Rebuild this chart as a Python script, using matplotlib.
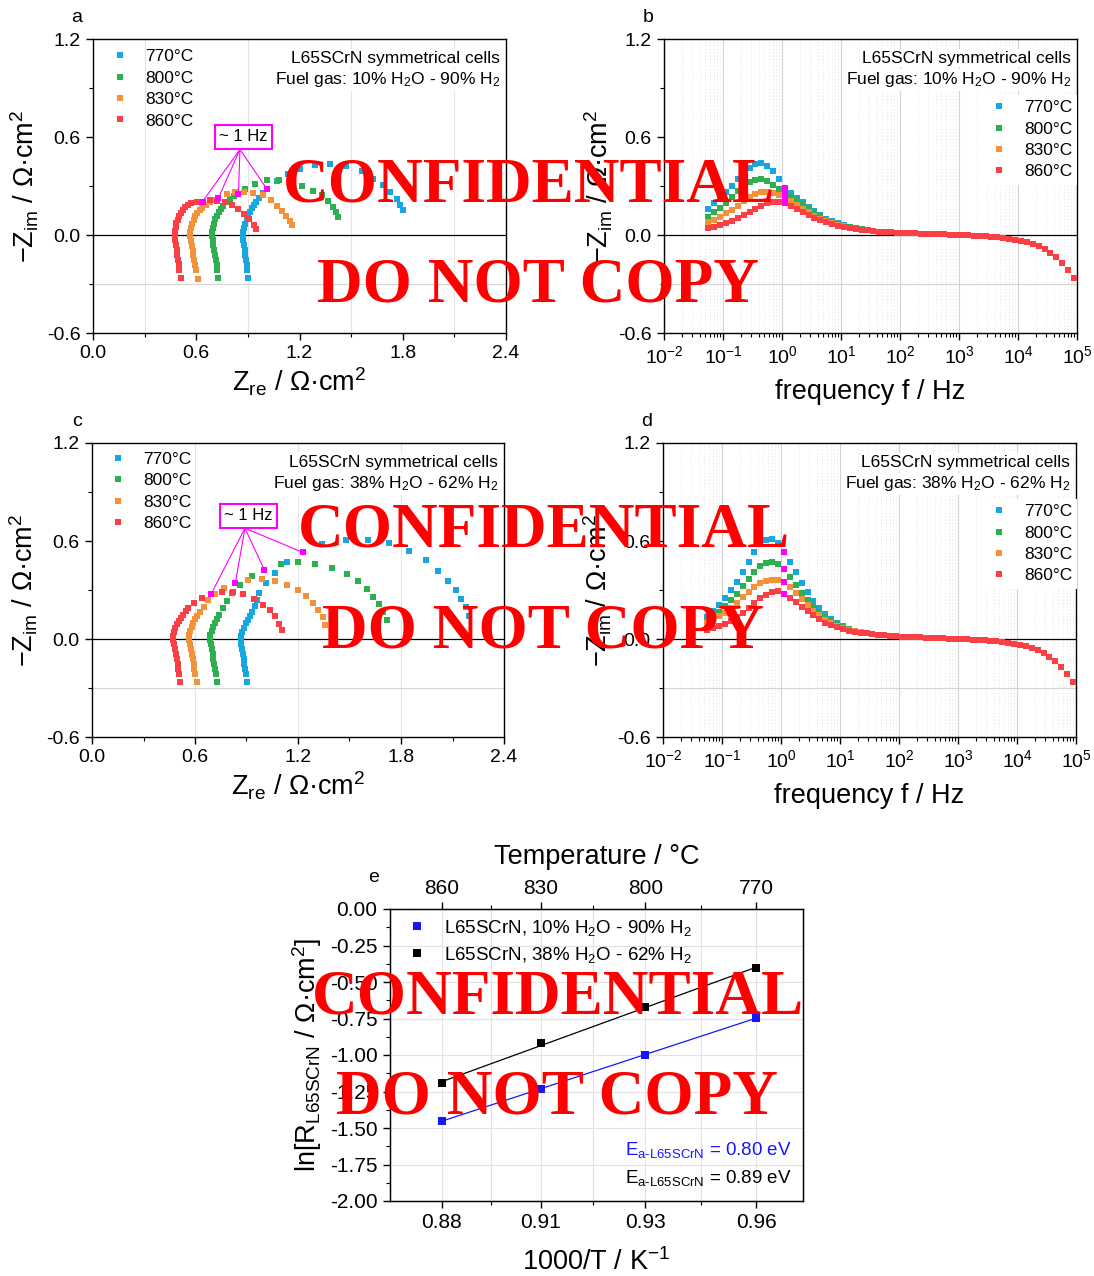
import numpy as np
import matplotlib
matplotlib.use("Agg")
import matplotlib.pyplot as plt
from matplotlib.lines import Line2D
from matplotlib.ticker import (MultipleLocator, FixedLocator, LogLocator,
                               NullFormatter, FormatStrFormatter,
                               LogFormatterSciNotation)

plt.rcParams['font.family'] = ['Liberation Sans', 'DejaVu Sans']
plt.rcParams['mathtext.fontset'] = 'custom'
plt.rcParams['mathtext.rm'] = 'Liberation Sans'
plt.rcParams['mathtext.it'] = 'Liberation Sans:italic'
plt.rcParams['mathtext.bf'] = 'Liberation Sans:bold'
plt.rcParams['mathtext.default'] = 'regular'
plt.rcParams['axes.unicode_minus'] = False

# ---------------------------------------------------------------- data
temps = ['770°C', '800°C', '830°C', '860°C']
colors = ['#17A6E0', '#2EAF50', '#F2923A', '#FA4045']
MAGENTA = '#FF00FF'

# Nyquist, 10% H2O - 90% H2 (Zre, -Zim in Ohm cm2)
a770_re = [0.903, 0.897, 0.893, 0.889, 0.885, 0.881, 0.877, 0.873, 0.870, 0.872, 0.877, 0.884, 0.893, 0.902,
           0.913, 0.925, 0.937, 0.950, 0.965, 0.985, 1.009, 1.067, 1.131, 1.205, 1.290, 1.380, 1.470, 1.561,
           1.629, 1.687, 1.726, 1.765, 1.784, 1.803]
a770_im = [-0.264, -0.213, -0.183, -0.153, -0.123, -0.093, -0.063, -0.033, -0.005, 0.020, 0.045, 0.070, 0.095,
           0.118, 0.140, 0.163, 0.185, 0.205, 0.228, 0.255, 0.284, 0.333, 0.375, 0.405, 0.430, 0.435, 0.420,
           0.389, 0.344, 0.307, 0.262, 0.221, 0.186, 0.154]
a800_re = [0.728, 0.722, 0.718, 0.714, 0.710, 0.705, 0.700, 0.695, 0.691, 0.693, 0.697, 0.703, 0.710, 0.719,
           0.730, 0.742, 0.757, 0.775, 0.796, 0.820, 0.845, 0.883, 0.941, 1.009, 1.081, 1.145, 1.212, 1.276,
           1.329, 1.368, 1.396, 1.412, 1.425]
a800_im = [-0.264, -0.213, -0.183, -0.153, -0.123, -0.093, -0.063, -0.033, -0.005, 0.020, 0.045, 0.070, 0.095,
           0.118, 0.140, 0.160, 0.180, 0.200, 0.221, 0.236, 0.248, 0.283, 0.313, 0.334, 0.334, 0.324, 0.303,
           0.272, 0.246, 0.211, 0.170, 0.140, 0.109]
a830_re = [0.608, 0.599, 0.594, 0.589, 0.584, 0.579, 0.574, 0.569, 0.565, 0.566, 0.570, 0.577, 0.585, 0.595,
           0.607, 0.620, 0.636, 0.655, 0.680, 0.700, 0.728, 0.777, 0.825, 0.879, 0.932, 0.990, 1.032, 1.067,
           1.096, 1.121, 1.145, 1.158]
a830_im = [-0.270, -0.215, -0.185, -0.155, -0.125, -0.095, -0.065, -0.035, -0.005, 0.020, 0.045, 0.070, 0.093,
           0.115, 0.135, 0.152, 0.168, 0.183, 0.200, 0.212, 0.225, 0.252, 0.262, 0.266, 0.256, 0.242, 0.215,
           0.180, 0.149, 0.119, 0.088, 0.063]
a860_re = [0.510, 0.502, 0.498, 0.494, 0.490, 0.486, 0.482, 0.478, 0.476, 0.477, 0.480, 0.485, 0.492, 0.500,
           0.510, 0.522, 0.536, 0.552, 0.572, 0.602, 0.637, 0.680, 0.722, 0.767, 0.806, 0.844, 0.879, 0.908,
           0.935, 0.947]
a860_im = [-0.266, -0.212, -0.180, -0.150, -0.120, -0.090, -0.060, -0.030, -0.003, 0.022, 0.047, 0.071, 0.094,
           0.116, 0.136, 0.154, 0.170, 0.183, 0.193, 0.200, 0.205, 0.213, 0.211, 0.201, 0.184, 0.159, 0.129,
           0.098, 0.063, 0.037]
a_hz1 = [20, 20, 20, 20]

# Nyquist, 38% H2O - 62% H2
c770_re = [0.901, 0.895, 0.891, 0.887, 0.883, 0.879, 0.875, 0.870, 0.866, 0.869, 0.876, 0.886, 0.897, 0.910,
           0.922, 0.933, 0.948, 0.960, 0.975, 1.012, 1.066, 1.138, 1.227, 1.341, 1.477, 1.606, 1.732, 1.848,
           1.943, 2.017, 2.075, 2.120, 2.149, 2.176, 2.198]
c770_im = [-0.263, -0.212, -0.182, -0.152, -0.122, -0.092, -0.062, -0.032, -0.005, 0.020, 0.045, 0.070, 0.095,
           0.118, 0.142, 0.165, 0.200, 0.240, 0.282, 0.343, 0.406, 0.469, 0.531, 0.584, 0.604, 0.608, 0.588,
           0.539, 0.482, 0.416, 0.355, 0.298, 0.247, 0.196, 0.141]
c800_re = [0.730, 0.722, 0.717, 0.712, 0.707, 0.702, 0.697, 0.692, 0.687, 0.690, 0.697, 0.706, 0.716, 0.727,
           0.740, 0.761, 0.788, 0.817, 0.862, 0.930, 1.004, 1.101, 1.198, 1.299, 1.400, 1.483, 1.547, 1.600,
           1.639, 1.672, 1.697, 1.716]
c800_im = [-0.263, -0.212, -0.182, -0.152, -0.122, -0.092, -0.062, -0.032, -0.005, 0.022, 0.048, 0.072, 0.097,
           0.120, 0.145, 0.192, 0.231, 0.282, 0.333, 0.386, 0.424, 0.457, 0.469, 0.461, 0.437, 0.400, 0.353,
           0.304, 0.257, 0.212, 0.165, 0.114]
c830_re = [0.610, 0.600, 0.596, 0.592, 0.587, 0.582, 0.576, 0.570, 0.564, 0.567, 0.572, 0.580, 0.590, 0.601,
           0.614, 0.629, 0.655, 0.678, 0.716, 0.769, 0.835, 0.910, 0.988, 1.068, 1.138, 1.202, 1.246, 1.285,
           1.318, 1.343, 1.357]
c830_im = [-0.263, -0.212, -0.182, -0.152, -0.122, -0.092, -0.062, -0.032, -0.005, 0.022, 0.047, 0.072, 0.097,
           0.120, 0.142, 0.165, 0.196, 0.237, 0.278, 0.314, 0.343, 0.363, 0.365, 0.355, 0.329, 0.298, 0.261,
           0.222, 0.180, 0.135, 0.084]
c860_re = [0.513, 0.507, 0.503, 0.499, 0.494, 0.489, 0.484, 0.478, 0.472, 0.474, 0.479, 0.486, 0.494, 0.504,
           0.516, 0.530, 0.545, 0.561, 0.596, 0.639, 0.693, 0.755, 0.819, 0.881, 0.944, 0.998, 1.037, 1.066,
           1.091, 1.109]
c860_im = [-0.263, -0.212, -0.182, -0.152, -0.122, -0.092, -0.062, -0.032, -0.005, 0.020, 0.045, 0.070, 0.092,
           0.112, 0.130, 0.150, 0.170, 0.192, 0.220, 0.251, 0.274, 0.288, 0.288, 0.273, 0.247, 0.210, 0.176,
           0.139, 0.094, 0.053]
c_hz1 = [22, 20, 20, 20]

# Bode: measurement frequencies (Hz), high to low
freq = [89125, 70795, 56234, 44668, 35481, 28184, 22387, 17783, 14125, 11220,
        8912.5, 7079.5, 5623.4, 4466.8, 3548.1, 2818.4, 2238.7, 1778.3, 1412.5, 1122.0,
        891.25, 707.95, 562.34, 446.68, 354.81, 281.84, 223.87, 177.83, 141.25, 112.20,
        89.125, 70.795, 56.234, 44.668, 35.481, 28.184, 22.387, 17.783, 14.125, 11.220,
        8.9125, 7.0795, 5.6234, 4.4668, 3.5481, 2.8184, 2.2387, 1.7783, 1.4125, 1.1220,
        0.89125, 0.70795, 0.56234, 0.44668, 0.35481, 0.28184, 0.22387, 0.17783, 0.14125, 0.11220,
        0.089125, 0.070795, 0.056234]
bode_hz1 = 49

# -Zim above ~28 Hz, common to all temperatures
b_hf = [-0.264, -0.214, -0.173, -0.137, -0.110, -0.086, -0.069, -0.053, -0.043, -0.035,
        -0.028, -0.023, -0.019, -0.015, -0.012, -0.009, -0.007, -0.005, -0.003, -0.001,
        0.001, 0.003, 0.005, 0.006, 0.007, 0.008, 0.009, 0.010, 0.011, 0.012,
        0.014, 0.016, 0.018, 0.021, 0.024, 0.028]
b770_lf = [0.036, 0.043, 0.051, 0.060, 0.071, 0.085, 0.101, 0.121, 0.145, 0.172, 0.200, 0.228, 0.255, 0.290,
           0.345, 0.392, 0.425, 0.438, 0.432, 0.412, 0.380, 0.340, 0.300, 0.262, 0.228, 0.195, 0.160]
b800_lf = [0.034, 0.040, 0.047, 0.055, 0.065, 0.077, 0.092, 0.110, 0.132, 0.157, 0.185, 0.212, 0.233, 0.250,
           0.280, 0.308, 0.328, 0.340, 0.338, 0.325, 0.300, 0.268, 0.232, 0.198, 0.166, 0.138, 0.113]
b830_lf = [0.033, 0.038, 0.045, 0.053, 0.062, 0.073, 0.086, 0.101, 0.119, 0.139, 0.162, 0.186, 0.208, 0.226,
           0.245, 0.258, 0.265, 0.263, 0.252, 0.233, 0.208, 0.180, 0.155, 0.132, 0.112, 0.094, 0.078]
b860_lf = [0.032, 0.037, 0.043, 0.050, 0.058, 0.068, 0.079, 0.092, 0.107, 0.123, 0.140, 0.158, 0.176, 0.196,
           0.205, 0.203, 0.193, 0.178, 0.160, 0.140, 0.120, 0.102, 0.086, 0.072, 0.060, 0.050, 0.041]

d_hf = [-0.264, -0.212, -0.170, -0.135, -0.108, -0.085, -0.068, -0.053, -0.043, -0.035,
        -0.028, -0.023, -0.019, -0.015, -0.012, -0.009, -0.007, -0.005, -0.003, -0.001,
        0.001, 0.003, 0.005, 0.006, 0.007, 0.008, 0.010, 0.011, 0.013, 0.015,
        0.017, 0.019, 0.022, 0.025, 0.029, 0.034]
d770_lf = [0.043, 0.052, 0.064, 0.080, 0.100, 0.124, 0.154, 0.190, 0.234, 0.285, 0.345, 0.410, 0.474, 0.535,
           0.590, 0.610, 0.606, 0.580, 0.535, 0.470, 0.410, 0.350, 0.298, 0.250, 0.207, 0.170, 0.135]
d800_lf = [0.041, 0.049, 0.059, 0.072, 0.089, 0.110, 0.135, 0.164, 0.198, 0.238, 0.282, 0.330, 0.380, 0.426,
           0.460, 0.472, 0.466, 0.445, 0.410, 0.368, 0.322, 0.278, 0.237, 0.200, 0.168, 0.140, 0.115]
d830_lf = [0.040, 0.046, 0.055, 0.066, 0.080, 0.097, 0.118, 0.144, 0.174, 0.208, 0.244, 0.282, 0.318, 0.348,
           0.362, 0.364, 0.358, 0.343, 0.320, 0.290, 0.256, 0.222, 0.190, 0.162, 0.138, 0.118, 0.100]
d860_lf = [0.038, 0.044, 0.051, 0.060, 0.071, 0.085, 0.101, 0.121, 0.144, 0.170, 0.198, 0.226, 0.254, 0.278,
           0.292, 0.288, 0.272, 0.248, 0.218, 0.187, 0.158, 0.132, 0.110, 0.092, 0.077, 0.065, 0.055]

# Arrhenius data
arr_temps_c = [860, 830, 800, 770]
ln_r_10 = [-1.451, -1.234, -0.999, -0.745]
ln_r_38 = [-1.195, -0.921, -0.670, -0.407]
K_B = 8.617e-5  # eV/K

# ---------------------------------------------------------------- figure
W, H = 1094, 1276
fig = plt.figure(figsize=(W / 100, H / 100), dpi=100)


def axes_px(left, top, right, bottom):
    return fig.add_axes([left / W, 1 - bottom / H, (right - left) / W, (bottom - top) / H])


def style_ticks(ax, size=14):
    ax.tick_params(which='major', direction='out', length=5, width=1, labelsize=size, pad=4,
                   top=False, right=False)
    ax.tick_params(which='minor', direction='out', length=3, width=0.8, top=False, right=False)
    for sp in ax.spines.values():
        sp.set_linewidth(1.0)


def legend_handles():
    return [Line2D([], [], marker='s', ls='none', color=c, markersize=5, mew=0, label=t)
            for t, c in zip(temps, colors)]


def info_text(ax, gas, y1, y2):
    box = dict(facecolor='white', edgecolor='none', pad=1.0)
    ax.text(0.985, y1, 'L65SCrN symmetrical cells', transform=ax.transAxes, ha='right',
            va='baseline', fontsize=12.5, bbox=box, zorder=6)
    ax.text(0.985, y2, 'Fuel gas: ' + gas, transform=ax.transAxes, ha='right',
            va='baseline', fontsize=12.5, bbox=box, zorder=6)


def nyquist(ax, series, hz1, box_xy, hub_xy, gas, grid_x, leg_anchor):
    ax.set_xlim(0, 2.4)
    ax.set_ylim(-0.6, 1.2)
    for gx in grid_x:
        ax.axvline(gx, color='#e4e4e4', lw=0.8, zorder=0)
    ax.axhline(-0.3, color='#d4d4d4', lw=0.8, zorder=0)
    ax.axhline(0, color='black', lw=0.9, zorder=1)
    for (zre, zim), c in zip(series, colors):
        ax.plot(zre, zim, 's', ls='none', color=c, ms=5, mew=0, zorder=3)
    for (zre, zim), i in zip(series, hz1):
        ax.annotate('', xy=(zre[i], zim[i]), xytext=hub_xy,
                    arrowprops=dict(arrowstyle='-', color=MAGENTA, lw=0.8, shrinkA=0, shrinkB=0),
                    zorder=4)
        ax.plot(zre[i], zim[i], 's', color=MAGENTA, ms=5, mew=0, zorder=5)
    ax.text(box_xy[0], box_xy[1], '~ 1 Hz', ha='center', va='center', fontsize=12,
            bbox=dict(boxstyle='square,pad=0.25', fc='white', ec=MAGENTA, lw=1.5), zorder=6)
    ax.xaxis.set_major_locator(MultipleLocator(0.6))
    ax.xaxis.set_minor_locator(MultipleLocator(0.3))
    ax.yaxis.set_major_locator(MultipleLocator(0.6))
    ax.yaxis.set_minor_locator(MultipleLocator(0.3))
    ax.xaxis.set_major_formatter(FormatStrFormatter('%.1f'))
    ax.yaxis.set_major_formatter(FormatStrFormatter('%.1f'))
    style_ticks(ax)
    ax.set_xlabel('Z$_{re}$ / Ω·cm$^2$', fontsize=19.5, labelpad=2)
    ax.set_ylabel('−Z$_{im}$ / Ω·cm$^2$', fontsize=19.5, labelpad=4)
    info_text(ax, gas, 0.919, 0.846)
    ax.legend(handles=legend_handles(), loc='upper left', bbox_to_anchor=leg_anchor,
              fontsize=12.5, frameon=False, handlelength=1.0, handletextpad=0.94,
              labelspacing=0.36, borderpad=0.3, borderaxespad=0)


def bode(ax, hf, lfs, gas, leg_anchor):
    ax.set_xscale('log')
    ax.set_xlim(1e-2, 1e5)
    ax.set_ylim(-0.6, 1.2)
    ax.xaxis.set_major_locator(LogLocator(base=10, numticks=20))
    ax.xaxis.set_minor_locator(LogLocator(base=10, subs=np.arange(2, 10), numticks=20))
    ax.xaxis.set_major_formatter(LogFormatterSciNotation())
    ax.xaxis.set_minor_formatter(NullFormatter())
    ax.grid(True, which='major', axis='x', color='#d2d2d2', lw=0.8, zorder=0)
    ax.grid(True, which='minor', axis='x', color='#e3e3e3', lw=0.6, ls=(0, (1.5, 2.5)), zorder=0)
    ax.set_axisbelow(True)
    ax.axhline(-0.3, color='#d4d4d4', lw=0.8, zorder=0)
    ax.axhline(0, color='black', lw=0.9, zorder=1)
    for lf, c in zip(lfs, colors):
        ax.plot(freq, hf + lf, 's', ls='none', color=c, ms=5, mew=0, zorder=3)
    for lf in lfs:
        zim = hf + lf
        ax.plot(freq[bode_hz1], zim[bode_hz1], 's', color=MAGENTA, ms=5, mew=0, zorder=4)
    ax.yaxis.set_major_locator(MultipleLocator(0.6))
    ax.yaxis.set_minor_locator(MultipleLocator(0.3))
    ax.yaxis.set_major_formatter(FormatStrFormatter('%.1f'))
    style_ticks(ax)
    ax.set_xlabel('frequency f / Hz', fontsize=19.5, labelpad=8)
    ax.set_ylabel('−Z$_{im}$ / Ω·cm$^2$', fontsize=19.5, labelpad=2)
    info_text(ax, gas, 0.919, 0.846)
    leg = ax.legend(handles=legend_handles(), loc='upper left', bbox_to_anchor=leg_anchor,
                    fontsize=12.5, frameon=True, fancybox=False, edgecolor='none',
                    facecolor='white', framealpha=1, handlelength=1.0, handletextpad=0.94,
                    labelspacing=0.36, borderpad=0.3, borderaxespad=0)
    leg.set_zorder(6)


gas10 = '10% H$_2$O - 90% H$_2$'
gas38 = '38% H$_2$O - 62% H$_2$'

ax_a = axes_px(93, 39, 506, 333)
nyquist(ax_a, [(a770_re, a770_im), (a800_re, a800_im), (a830_re, a830_im), (a860_re, a860_im)],
        a_hz1, (0.874, 0.601), (0.854, 0.524), gas10, [0.3, 0.9, 1.5, 2.1], (0.032, 0.983))

ax_b = axes_px(664, 39, 1077, 333)
bode(ax_b, b_hf, [b770_lf, b800_lf, b830_lf, b860_lf], gas10, (0.7775, 0.810))

ax_c = axes_px(92, 443, 504, 737)
nyquist(ax_c, [(c770_re, c770_im), (c800_re, c800_im), (c830_re, c830_im), (c860_re, c860_im)],
        c_hz1, (0.911, 0.754), (0.891, 0.678), gas38, [0.6, 1.2, 1.8], (0.0294, 0.988))

ax_d = axes_px(663, 443, 1076, 737)
bode(ax_d, d_hf, [d770_lf, d800_lf, d830_lf, d860_lf], gas38, (0.780, 0.810))

# Arrhenius plot
ax_e = axes_px(390, 909, 803, 1201)
inv_t = [1000.0 / (t + 273.15) for t in arr_temps_c]
ax_e.set_xlim(0.87, 0.97)
ax_e.set_ylim(-2.0, 0.0)
mids = [(inv_t[i] + inv_t[i + 1]) / 2 for i in range(len(inv_t) - 1)]
ax_e.xaxis.set_major_locator(FixedLocator(inv_t))
ax_e.xaxis.set_minor_locator(FixedLocator(mids))
ax_e.set_xticklabels(['%.2f' % v for v in inv_t])
ax_e.yaxis.set_major_locator(MultipleLocator(0.25))
ax_e.yaxis.set_minor_locator(MultipleLocator(0.125))
ax_e.yaxis.set_major_formatter(FormatStrFormatter('%.2f'))
ax_e.grid(True, which='both', axis='x', color='#e2e2e2', lw=0.8)
ax_e.grid(True, which='major', axis='y', color='#e2e2e2', lw=0.8)
ax_e.set_axisbelow(True)
style_ticks(ax_e, size=15)

fits = []
for y, c, lab in [(ln_r_10, '#1515FF', 'L65SCrN, ' + gas10), (ln_r_38, 'black', 'L65SCrN, ' + gas38)]:
    slope, icpt = np.polyfit(inv_t, y, 1)
    xs = np.array([min(inv_t), max(inv_t)])
    ax_e.plot(xs, slope * xs + icpt, '-', color=c, lw=0.9, zorder=2)
    ax_e.plot(inv_t, y, 's', ls='none', color=c, ms=5.5, mew=0, zorder=3, label=lab)
    fits.append((slope, c))
ax_e.legend(loc='upper left', bbox_to_anchor=(0.028, 0.989), fontsize=13.5, frameon=False,
            handlelength=1.0, handletextpad=0.96, labelspacing=0.36, borderpad=0.3,
            borderaxespad=0)
for (slope, c), yb in zip(fits, [0.158, 0.062]):
    ea = slope * 1000 * K_B
    ax_e.text(0.973, yb, 'E$_{a‐L65SCrN}$ = %.2f eV' % ea, transform=ax_e.transAxes,
              ha='right', va='baseline', fontsize=13.5, color=c)
ax_e.set_xlabel('1000/T / K$^{-1}$', fontsize=19.5, labelpad=11)
ax_e.set_ylabel('ln[R$_{L65SCrN}$ / Ω·cm$^2$]', fontsize=19.5, labelpad=4)

ax_t = ax_e.twiny()
ax_t.set_xlim(ax_e.get_xlim())
ax_t.xaxis.set_major_locator(FixedLocator(inv_t))
ax_t.xaxis.set_minor_locator(FixedLocator(mids))
ax_t.set_xticklabels([str(t) for t in arr_temps_c])
ax_t.tick_params(which='major', direction='out', length=5, width=1, labelsize=15, pad=3)
ax_t.tick_params(which='minor', direction='out', length=3, width=0.8)
ax_t.set_xlabel('Temperature / °C', fontsize=19.5, labelpad=11)

# panel letters
for lab, x, y in [('a', 77, 18), ('b', 648, 18), ('c', 77, 422), ('d', 647, 422), ('e', 374, 877)]:
    fig.text(x / W, 1 - y / H, lab, ha='center', va='center', fontsize=14)

# stamp
stamp = dict(ha='center', va='baseline', fontsize=45.5, color='#FF0000', fontweight='bold',
             family=['Liberation Serif', 'DejaVu Serif'], zorder=20)
for txt, x, y in [('CONFIDENTIAL', 529, 202), ('DO NOT COPY', 538, 302),
                  ('CONFIDENTIAL', 544, 547), ('DO NOT COPY', 543, 647),
                  ('CONFIDENTIAL', 558, 1014), ('DO NOT COPY', 557, 1113)]:
    fig.text(x / W, 1 - y / H, txt, **stamp)

fig.savefig('out.png', dpi=100)
